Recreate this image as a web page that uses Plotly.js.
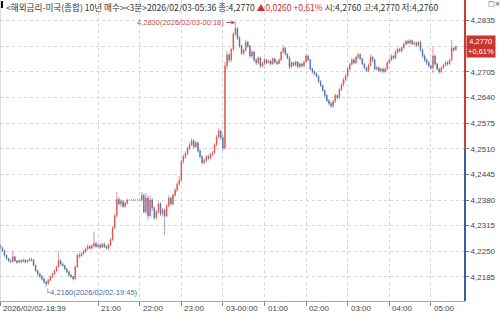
<!DOCTYPE html>
<html><head><meta charset="utf-8">
<script src="https://cdn.plot.ly/plotly-3.0.1.min.js"></script>
<style>html,body{margin:0;padding:0;background:#fff;}#chart{width:500px;height:314px;}</style>
</head><body><div id="chart"></div>
<script>
const startTime = '2026-02-02T18:39:00';
const intervalMinutes = 3;
const open = [
4.2265,4.2258,4.2252,4.2240,4.2232,4.2226,4.2224,4.2236,4.2226,4.2222,
4.2226,4.2224,4.2228,4.2223,4.2226,4.2230,4.2228,4.2214,4.2200,4.2192,
4.2186,4.2180,4.2172,4.2168,4.2176,4.2184,4.2192,4.2200,4.2210,4.2226,
4.2218,4.2214,4.2205,4.2198,4.2190,4.2186,4.2180,4.2210,4.2240,4.2238,
4.2244,4.2250,4.2256,4.2262,4.2258,4.2264,4.2270,4.2262,4.2266,4.2260,
4.2268,4.2262,4.2258,4.2266,4.2280,4.2310,4.2340,4.2382,4.2370,4.2376,
4.2364,4.2372,4.2380,4.2380,4.2380,4.2380,4.2380,4.2380,4.2380,4.2392,
4.2350,4.2385,4.2340,4.2380,4.2360,4.2335,4.2350,4.2370,4.2345,4.2355,
4.2340,4.2365,4.2385,4.2370,4.2392,4.2405,4.2420,4.2430,4.2478,4.2490,
4.2498,4.2510,4.2520,4.2530,4.2515,4.2525,4.2505,4.2490,4.2475,4.2480,
4.2490,4.2486,4.2495,4.2500,4.2520,4.2540,4.2555,4.2538,4.2512,4.2720,
4.2748,4.2735,4.2762,4.2800,4.2815,4.2790,4.2770,4.2752,4.2760,4.2780,
4.2770,4.2745,4.2755,4.2735,4.2728,4.2740,4.2720,4.2726,4.2735,4.2728,
4.2732,4.2725,4.2738,4.2730,4.2726,4.2735,4.2755,4.2765,4.2750,4.2740,
4.2718,4.2728,4.2722,4.2730,4.2718,4.2725,4.2720,4.2730,4.2745,4.2735,
4.2712,4.2705,4.2700,4.2694,4.2680,4.2670,4.2658,4.2645,4.2632,4.2625,
4.2618,4.2630,4.2645,4.2640,4.2660,4.2672,4.2685,4.2695,4.2712,4.2725,
4.2735,4.2728,4.2742,4.2748,4.2738,4.2725,4.2715,4.2708,4.2722,4.2742,
4.2735,4.2712,4.2715,4.2708,4.2712,4.2706,4.2712,4.2728,4.2735,4.2745,
4.2740,4.2755,4.2762,4.2758,4.2766,4.2775,4.2782,4.2778,4.2784,4.2776,
4.2778,4.2772,4.2780,4.2760,4.2745,4.2735,4.2728,4.2720,4.2715,4.2745,
4.2725,4.2712,4.2705,4.2715,4.2722,4.2728,4.2725,4.2735,4.2765,4.2760];
const high = [
4.2268,4.2262,4.2254,4.2242,4.2234,4.2230,4.2251,4.2238,4.2228,4.2230,
4.2230,4.2232,4.2230,4.2230,4.2234,4.2234,4.2230,4.2216,4.2204,4.2196,
4.2190,4.2182,4.2176,4.2180,4.2188,4.2196,4.2204,4.2214,4.2251,4.2230,
4.2222,4.2216,4.2208,4.2200,4.2192,4.2188,4.2214,4.2244,4.2246,4.2248,
4.2254,4.2260,4.2268,4.2266,4.2268,4.2300,4.2274,4.2270,4.2270,4.2272,
4.2272,4.2266,4.2270,4.2284,4.2314,4.2345,4.2400,4.2388,4.2382,4.2380,
4.2376,4.2384,4.2380,4.2380,4.2380,4.2380,4.2380,4.2380,4.2400,4.2396,
4.2398,4.2390,4.2392,4.2385,4.2364,4.2356,4.2376,4.2374,4.2360,4.2358,
4.2370,4.2392,4.2388,4.2396,4.2410,4.2425,4.2440,4.2482,4.2496,4.2504,
4.2516,4.2526,4.2537,4.2534,4.2530,4.2528,4.2508,4.2494,4.2486,4.2494,
4.2496,4.2500,4.2504,4.2524,4.2545,4.2562,4.2558,4.2545,4.2730,4.2758,
4.2752,4.2766,4.2806,4.2830,4.2818,4.2796,4.2774,4.2764,4.2786,4.2784,
4.2774,4.2760,4.2758,4.2740,4.2744,4.2744,4.2730,4.2740,4.2738,4.2736,
4.2736,4.2742,4.2740,4.2734,4.2740,4.2758,4.2772,4.2768,4.2752,4.2744,
4.2732,4.2730,4.2734,4.2732,4.2728,4.2728,4.2734,4.2750,4.2748,4.2738,
4.2716,4.2708,4.2704,4.2696,4.2684,4.2672,4.2660,4.2648,4.2636,4.2628,
4.2634,4.2650,4.2648,4.2664,4.2676,4.2690,4.2700,4.2716,4.2728,4.2740,
4.2740,4.2746,4.2754,4.2752,4.2740,4.2728,4.2718,4.2726,4.2748,4.2746,
4.2738,4.2720,4.2718,4.2716,4.2716,4.2716,4.2732,4.2740,4.2750,4.2748,
4.2760,4.2766,4.2766,4.2770,4.2780,4.2786,4.2786,4.2788,4.2786,4.2782,
4.2782,4.2784,4.2784,4.2764,4.2750,4.2740,4.2732,4.2724,4.2768,4.2748,
4.2728,4.2716,4.2718,4.2726,4.2732,4.2732,4.2738,4.2786,4.2768,4.2770];
const low = [
4.2255,4.2248,4.2236,4.2228,4.2222,4.2220,4.2222,4.2222,4.2218,4.2220,
4.2220,4.2222,4.2219,4.2221,4.2224,4.2224,4.2212,4.2198,4.2188,4.2182,
4.2176,4.2168,4.2160,4.2164,4.2174,4.2182,4.2190,4.2198,4.2208,4.2214,
4.2210,4.2202,4.2194,4.2186,4.2182,4.2176,4.2178,4.2208,4.2232,4.2236,
4.2240,4.2246,4.2252,4.2254,4.2254,4.2260,4.2258,4.2258,4.2256,4.2258,
4.2258,4.2254,4.2254,4.2262,4.2276,4.2306,4.2336,4.2366,4.2362,4.2360,
4.2360,4.2368,4.2380,4.2380,4.2380,4.2380,4.2380,4.2380,4.2376,4.2346,
4.2345,4.2330,4.2336,4.2352,4.2330,4.2330,4.2346,4.2340,4.2338,4.2291,
4.2336,4.2360,4.2366,4.2366,4.2388,4.2400,4.2416,4.2428,4.2472,4.2484,
4.2494,4.2506,4.2516,4.2510,4.2512,4.2500,4.2486,4.2470,4.2470,4.2476,
4.2480,4.2482,4.2490,4.2496,4.2516,4.2536,4.2532,4.2505,4.2508,4.2712,
4.2728,4.2730,4.2758,4.2796,4.2786,4.2766,4.2748,4.2748,4.2756,4.2766,
4.2740,4.2740,4.2730,4.2722,4.2724,4.2714,4.2716,4.2722,4.2724,4.2726,
4.2720,4.2722,4.2726,4.2722,4.2724,4.2732,4.2752,4.2746,4.2736,4.2712,
4.2714,4.2718,4.2718,4.2714,4.2714,4.2716,4.2716,4.2728,4.2732,4.2708,
4.2700,4.2696,4.2690,4.2676,4.2666,4.2654,4.2640,4.2628,4.2620,4.2613,
4.2614,4.2626,4.2636,4.2636,4.2656,4.2668,4.2680,4.2690,4.2708,4.2720,
4.2724,4.2724,4.2738,4.2734,4.2722,4.2712,4.2704,4.2704,4.2718,4.2730,
4.2708,4.2708,4.2704,4.2704,4.2702,4.2702,4.2708,4.2724,4.2732,4.2736,
4.2736,4.2750,4.2754,4.2754,4.2762,4.2772,4.2774,4.2774,4.2772,4.2772,
4.2768,4.2768,4.2756,4.2740,4.2730,4.2722,4.2716,4.2710,4.2702,4.2720,
4.2708,4.2700,4.2702,4.2712,4.2718,4.2720,4.2722,4.2732,4.2755,4.2760];
const close = [
4.2258,4.2252,4.2240,4.2232,4.2226,4.2224,4.2236,4.2226,4.2222,4.2226,
4.2224,4.2228,4.2223,4.2226,4.2230,4.2228,4.2214,4.2200,4.2192,4.2186,
4.2180,4.2172,4.2168,4.2176,4.2184,4.2192,4.2200,4.2210,4.2226,4.2218,
4.2214,4.2205,4.2198,4.2190,4.2186,4.2180,4.2210,4.2240,4.2238,4.2244,
4.2250,4.2256,4.2262,4.2258,4.2264,4.2270,4.2262,4.2266,4.2260,4.2268,
4.2262,4.2258,4.2266,4.2280,4.2310,4.2340,4.2382,4.2370,4.2376,4.2364,
4.2372,4.2380,4.2380,4.2380,4.2380,4.2380,4.2380,4.2380,4.2392,4.2350,
4.2385,4.2340,4.2380,4.2360,4.2335,4.2350,4.2370,4.2345,4.2355,4.2340,
4.2365,4.2385,4.2370,4.2392,4.2405,4.2420,4.2430,4.2478,4.2490,4.2498,
4.2510,4.2520,4.2530,4.2515,4.2525,4.2505,4.2490,4.2475,4.2480,4.2490,
4.2486,4.2495,4.2500,4.2520,4.2540,4.2555,4.2538,4.2512,4.2720,4.2748,
4.2735,4.2762,4.2800,4.2815,4.2790,4.2770,4.2752,4.2760,4.2780,4.2770,
4.2745,4.2755,4.2735,4.2728,4.2740,4.2720,4.2726,4.2735,4.2728,4.2732,
4.2725,4.2738,4.2730,4.2726,4.2735,4.2755,4.2765,4.2750,4.2740,4.2718,
4.2728,4.2722,4.2730,4.2718,4.2725,4.2720,4.2730,4.2745,4.2735,4.2712,
4.2705,4.2700,4.2694,4.2680,4.2670,4.2658,4.2645,4.2632,4.2625,4.2618,
4.2630,4.2645,4.2640,4.2660,4.2672,4.2685,4.2695,4.2712,4.2725,4.2735,
4.2728,4.2742,4.2748,4.2738,4.2725,4.2715,4.2708,4.2722,4.2742,4.2735,
4.2712,4.2715,4.2708,4.2712,4.2706,4.2712,4.2728,4.2735,4.2745,4.2740,
4.2755,4.2762,4.2758,4.2766,4.2775,4.2782,4.2778,4.2784,4.2776,4.2778,
4.2772,4.2780,4.2760,4.2745,4.2735,4.2728,4.2720,4.2715,4.2745,4.2725,
4.2712,4.2705,4.2715,4.2722,4.2728,4.2725,4.2735,4.2765,4.2760,4.2770];
const priceChange = 0.0260;
const changePct = 0.61;
const yTickVals = [4.2185,4.2250,4.2315,4.2380,4.2445,4.2510,4.2575,4.2640,4.2705,4.2770,4.2835];
const xTickTimes = ['2026-02-02 18:39','2026-02-02 21:00','2026-02-02 22:00','2026-02-02 23:00','2026-02-03 00:00','2026-02-03 01:00','2026-02-03 02:00','2026-02-03 03:00','2026-02-03 04:00','2026-02-03 05:00'];
const xTickText = ['2026/02/02-18:39','21:00','22:00','23:00','03-00:00','01:00','02:00','03:00','04:00','05:00'];
const instrumentTitle = '&lt;해외금리-미국(종합) 10년 매수&gt;&lt;3분&gt;';

const p2 = n => String(n).padStart(2,'0');
function fmtTime(d){return d.getUTCFullYear()+'-'+p2(d.getUTCMonth()+1)+'-'+p2(d.getUTCDate())+' '+p2(d.getUTCHours())+':'+p2(d.getUTCMinutes());}
function fmtStamp(s){return s.slice(0,10).replace(/-/g,'/')+'-'+s.slice(11,16);}
const fmt = v => v.toFixed(4).replace('.', ',');
const t0 = Date.parse(startTime+'Z');
const times = close.map((_,i)=>fmtTime(new Date(t0+i*intervalMinutes*60000)));
const n = close.length;
const last = close[n-1];
const prevClose = last - priceChange;
let iMax=0, iMin=0;
high.forEach((v,i)=>{ if(v>high[iMax]) iMax=i; });
low.forEach((v,i)=>{ if(v<low[iMin]) iMin=i; });
// the label of the tick hidden under the last-price box is left blank
const yTickText = yTickVals.map(v => Math.abs(v-last) < 1e-9 ? '' : fmt(v));

const yRange = [4.2124, 4.2887];
const xRange = ['2026-02-02 18:38:30','2026-02-03 05:49:12'];
const RED = '#cc3b30', BLUE = '#3e5f9e';
const lbl = {family:'Liberation Sans, Arial, sans-serif', size:8, color:'#444'};

const trace = {type:'candlestick', x:times, open:open, high:high, low:low, close:close,
  increasing:{line:{color:'#d24f47', width:0.6}, fillcolor:'#d24f47'},
  decreasing:{line:{color:'#4a68a5', width:0.6}, fillcolor:'#4a68a5'},
  whiskerwidth:0, hoverinfo:'skip'};

const annotations = [];
xTickTimes.forEach((t,k)=>annotations.push({x:t, y:0, xref:'x', yref:'paper', text:xTickText[k], showarrow:false,
  xanchor:'left', yanchor:'top', xshift:1, yshift:-1, font:lbl}));
const header = instrumentTitle + fmtStamp(times[n-1]) + ' 종:' + fmt(last) +
  ' <span style="color:#d32f2f">▲' + fmt(priceChange) + ' +' + changePct.toFixed(2).replace('.', ',') + '%</span>' +
  ' 시:' + fmt(open[n-1]) + ' 고:' + fmt(high[n-1]) + ' 저:' + fmt(low[n-1]);
annotations.push({x:0, y:1, xref:'paper', yref:'paper', xanchor:'left', yanchor:'top', xshift:4, yshift:1,
  text:header, showarrow:false, font:{family:'Noto Sans CJK KR, sans-serif', size:8.6, color:'#333'}});
annotations.push({x:times[iMax], y:high[iMax], xref:'x', yref:'y', text:fmt(high[iMax])+'('+fmtStamp(times[iMax])+')',
  showarrow:true, ax:-9, ay:0, xanchor:'right', arrowhead:2, arrowsize:0.8, arrowwidth:1, arrowcolor:'#c0504d',
  font:{family:'Liberation Sans, Arial, sans-serif', size:7.5, color:'#c0504d'}});
annotations.push({x:times[iMin], y:low[iMin], xref:'x', yref:'y', text:'└'+fmt(low[iMin])+'('+fmtStamp(times[iMin])+')',
  showarrow:false, xanchor:'left', yanchor:'top', xshift:-3, yshift:1,
  font:{family:'Liberation Sans, DejaVu Sans, sans-serif', size:7.5, color:'#4a6aa0'}});
annotations.push({x:1, y:last, xref:'paper', yref:'y', xanchor:'left', yanchor:'middle', xshift:1,
  text:fmt(last)+'<br>+'+changePct.toFixed(2).replace('.', ',')+'%', showarrow:false, bgcolor:'#c8372d', borderpad:1,
  font:{family:'Liberation Sans, Arial, sans-serif', size:7.5, color:'#fff'}});
annotations.push({x:1, y:1, xref:'paper', yref:'paper', xanchor:'left', yanchor:'top', xshift:21, yshift:2,
  text:'□×', showarrow:false, font:{family:'DejaVu Sans, sans-serif', size:7, color:'#444'}});

const shapes = [
  {type:'line', xref:'paper', yref:'y', x0:1, x1:1, y0:prevClose, y1:yRange[1], line:{color:RED, width:2}},
  {type:'line', xref:'paper', yref:'y', x0:1, x1:1, y0:yRange[0], y1:prevClose, line:{color:BLUE, width:2}},
  {type:'line', xref:'paper', yref:'paper', x0:0, x1:0, y0:0, y1:1, line:{color:'#bbb', width:1}},
  {type:'rect', xref:'paper', yref:'paper', xsizemode:'pixel', ysizemode:'pixel', xanchor:0, yanchor:1,
   x0:1, x1:3, y0:-8, y1:-1, fillcolor:'#111', line:{width:0}}
];

const layout = {
  width:500, height:314, margin:{l:0, r:35, t:0, b:13},
  paper_bgcolor:'#fff', plot_bgcolor:'#fff', separators:',.', showlegend:false, boxgap:0.5,
  xaxis:{type:'date', range:xRange, tickmode:'array', tickvals:xTickTimes, showticklabels:false,
    ticks:'outside', ticklen:4, tickcolor:'#888', showgrid:true, gridcolor:'#d6d6d6', griddash:'dot',
    showline:true, linecolor:'#aaa', linewidth:1, zeroline:false, rangeslider:{visible:false}, fixedrange:true},
  yaxis:{side:'right', range:yRange, tickmode:'array', tickvals:yTickVals, ticktext:yTickText,
    ticks:'outside', ticklen:3, tickcolor:'#777', tickfont:lbl, showgrid:true, gridcolor:'#d6d6d6', griddash:'dot',
    showline:false, zeroline:false, fixedrange:true},
  shapes:shapes, annotations:annotations
};
Plotly.newPlot('chart', [trace], layout, {staticPlot:true, displayModeBar:false});
</script></body></html>
